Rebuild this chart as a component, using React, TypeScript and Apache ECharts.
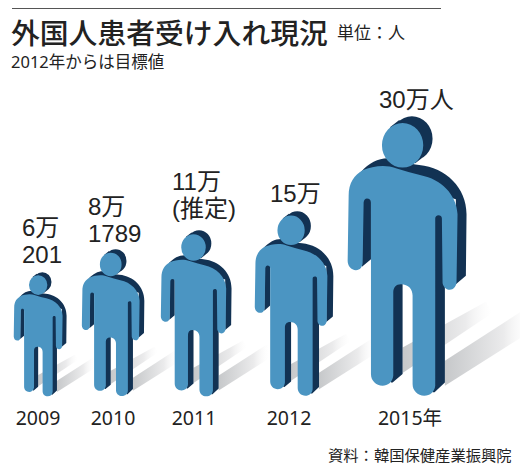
import React, { useEffect, useRef } from "react";
import * as echarts from "echarts";

const categories = ["2009", "2010", "2011", "2012", "2015年"];
const figureHeights = [124, 147, 166, 185, 280];
const valueLabels = ["6万\n201", "8万\n1789", "11万\n(推定)", "15万", "30万人"];
const titleText = "外国人患者受け入れ現況";
const unitText = "単位：人";
const noteText = "2012年からは目標値";
const sourceText = "資料：韓国保健産業振興院";

const FONT = '"Noto Sans","Noto Sans CJK JP",sans-serif';
const LABEL_FONT = '"Liberation Sans","Noto Sans CJK JP",sans-serif';
const LIGHT = "#4b95c2";
const DARK = "#123253";

const LIGHT_D =
  "M158 138A62 67 0 1 1 282 138A62 67 0 1 1 158 138Z" +
  "M58 290C58 250 75 228 100 213C130 200 170 195 200 207C225 215 250 222 275 228C335 240 382 285 385 345" +
  "L382 548C382 562 372 572 362 572C350 572 340 560 340 550L338 358C338 350 333 348 328 348C322 348 318 352 318 358" +
  "L318 860C316 878 303 890 285 890C265 890 250 875 250 855L250 590C250 570 238 555 215 555C200 555 192 565 192 580" +
  "L192 830C190 850 175 860 160 860C140 860 125 845 125 825L125 310C125 302 120 298 113 298C108 298 104 302 103 310" +
  "L100 490C100 503 92 513 80 513C65 513 55 500 55 485Z";
const DARK_D =
  "M186 118A62 67 0 1 1 310 118A62 67 0 1 1 186 118Z" +
  "M182 84L210 62L286 170L258 192Z" +
  "M95 218C120 190 150 175 180 177C210 182 240 195 270 197C350 205 412 265 412 345L410 530L380 555L380 300Z" +
  "M310 340L345 340L347 575L347 850L316 880L310 880Z" +
  "M185 550L220 550L220 825L190 850L185 850Z" +
  "M100 290L125 290L125 480L98 503Z";
const SHADOW_A = "M220 745L470 608L490 642L220 822Z";
const SHADOW_B = "M347 785L600 622L600 700L347 860Z";

echarts.graphic.registerShape("personLight", echarts.graphic.extendPath(LIGHT_D, {}) as any);
echarts.graphic.registerShape("personDark", echarts.graphic.extendPath(DARK_D, {}) as any);
echarts.graphic.registerShape("shadowA", echarts.graphic.extendPath(SHADOW_A, {}) as any);
echarts.graphic.registerShape("shadowB", echarts.graphic.extendPath(SHADOW_B, {}) as any);

// Uneven column widths: every person has a grid of its own, whose centre is the category.
const bands = [
  [0, 76],
  [76, 150],
  [150, 238],
  [238, 340],
  [340, 480],
];
const figureShift = [2, 0, 2, 5, -3];
const labelLeft = [22, 88, 172, 270, 379];
const labelGap = [18, 16, 22, 18, 17];
const LINE_STEP = 27;
const GRID_TOP = 96;
const BASELINE = 396;
const Y_MAX = 300;

const shadeFill = () =>
  new echarts.graphic.LinearGradient(0, 0, 1, 0, [
    { offset: 0, color: "#c6c8ca" },
    { offset: 0.7, color: "#ebebec" },
    { offset: 1, color: "rgba(250,250,250,0)" },
  ]);

export default function App() {
  const ref = useRef<HTMLDivElement>(null);
  useEffect(() => {
    const chart = echarts.init(ref.current!, undefined, { renderer: "svg" });
    const text = (t: string, left: number, top: number, size: number, weight: any = "normal", color = "#222") => ({
      text: t,
      left,
      top,
      padding: 0,
      textStyle: { fontFamily: FONT, fontSize: size, fontWeight: weight, color },
    });
    chart.setOption({
      animation: false,
      backgroundColor: "#fff",
      title: [
        text(titleText, 11, 18, 28.8, 500),
        text(unitText, 337, 24, 17),
        text(noteText, 11, 53, 16.5),
        text(sourceText, 328, 447, 15.3),
      ],
      graphic: [
        {
          type: "line",
          shape: { x1: 12, y1: 8.5, x2: 441, y2: 8.5 },
          style: { stroke: "#555", lineWidth: 1 },
        },
      ],
      grid: bands.map(([a, b]) => ({ left: a, width: b - a, top: GRID_TOP, height: BASELINE - GRID_TOP })),
      xAxis: categories.map((c, i) => ({
        type: "category",
        gridIndex: i,
        data: [c],
        axisLine: { show: false },
        axisTick: { show: false },
        axisLabel: { margin: 12, fontFamily: FONT, fontSize: 19.5, color: "#222", interval: 0 },
      })),
      yAxis: categories.map((_, i) => ({ type: "value", gridIndex: i, min: 0, max: Y_MAX, show: false })),
      series: categories.map((c, i) => ({
        type: "custom",
        xAxisIndex: i,
        yAxisIndex: i,
        z: 2 + i,
        data: [[c, figureHeights[i], valueLabels[i]]],
        renderItem: (_: any, api: any) => {
          const [cx, base] = api.coord([0, 0]);
          const [, top] = api.coord([0, api.value(1)]);
          const s = (base - top) / 840;
          const x = cx + figureShift[i] - 233 * s;
          const y = base - 890 * s;
          const lines = valueLabels[i].split("\n");
          return {
            type: "group",
            children: [
              {
                type: "group",
                x,
                y,
                scaleX: s,
                scaleY: s,
                children: [
                  { type: "shadowA", style: { fill: shadeFill() } },
                  { type: "shadowB", style: { fill: shadeFill() } },
                  { type: "personDark", style: { fill: DARK } },
                  { type: "personLight", style: { fill: LIGHT } },
                ],
              },
              ...lines.map((line: string, k: number) => ({
                type: "text",
                style: {
                  text: line,
                  x: labelLeft[i],
                  y: top - labelGap[i] - (lines.length - 1 - k) * LINE_STEP,
                  align: "left",
                  verticalAlign: "middle",
                  fontFamily: LABEL_FONT,
                  fontSize: 24,
                  fill: "#222",
                },
              })),
            ],
          };
        },
      })),
    });
    return () => chart.dispose();
  }, []);
  return <div ref={ref} style={{ position: "absolute", left: 0, top: 0, width: 520, height: 472 }} />;
}
